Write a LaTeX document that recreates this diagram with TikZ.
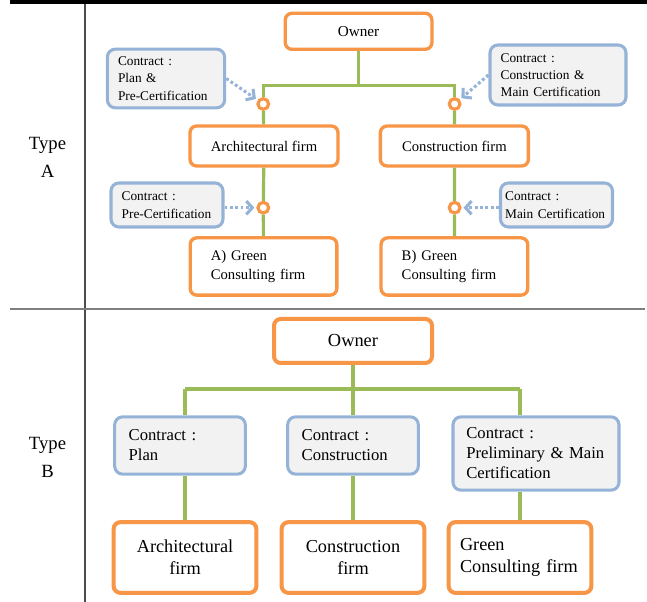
\documentclass[tikz,border=0pt]{standalone}
\usepackage{fontspec}
\setmainfont{Liberation Serif}
\usetikzlibrary{arrows.meta,calc}
\definecolor{firmorange}{HTML}{F79646}
\definecolor{contractblue}{HTML}{95B3D7}
\definecolor{linkgreen}{HTML}{9BBB59}
\definecolor{boxgray}{HTML}{F2F2F2}
\definecolor{rulegray}{HTML}{7F7F7F}

\begin{document}
\begin{tikzpicture}[x=0.75pt, y=-0.75pt,
  firm/.style={rectangle, rounded corners=5pt, draw=firmorange, line width=2.5pt, fill=white, align=center, inner sep=0pt},
  contract/.style={rectangle, rounded corners=6pt, draw=contractblue, line width=2.3pt, fill=boxgray, align=left, inner xsep=8pt, inner ysep=0pt},
  link/.style={draw=linkgreen, line width=2.4pt},
  arrow/.style={contractblue, line width=2.3pt, dash pattern=on 2.2pt off 1.8pt, -{Straight Barb[length=4.5pt,width=10pt]}, shorten >=1.5pt},
  joint/.style={circle, draw=firmorange, fill=white, line width=2.4pt, minimum size=8pt, inner sep=0pt},
  typelabel/.style={font=\fontsize{14}{21}\selectfont, align=center},
  textA/.style={font=\fontsize{11}{14.5}\selectfont},
  smallA/.style={font=\fontsize{10}{13}\selectfont},
  textB/.style={font=\fontsize{13.7}{16.3}\selectfont},
  smallB/.style={font=\fontsize{12.5}{15}\selectfont},
]
  \useasboundingbox (0,0) rectangle (647,602);

  % table rules
  \draw[line width=3pt] (10,2) -- (647,2);
  \draw[rulegray!60!black, line width=1.2pt] (85,4) -- (85,602);
  \draw[rulegray, line width=1.5pt] (10,309) -- (645,309);
  \node[typelabel] (typeA) at (47.5,157) {Type\\A};
  \node[typelabel] (typeB) at (47.5,457) {Type\\B};

  % Type A
  \node[firm, textA, font=\fontsize{11.4}{14}\selectfont, minimum width=110pt, minimum height=27pt] (ownA) at (358.6,31.3) {Owner};
  \node[contract, smallA, text width=72pt, minimum height=44pt] (planA) at (166,78.5) {Contract :\\Plan \&\\Pre-Certification};
  \node[contract, smallA, text width=86pt, minimum height=45pt] (mainA) at (558,75) {Contract :\\Construction \&\\Main Certification};
  \node[firm, textA, minimum width=111pt, minimum height=30pt] (archA) at (264,146) {Architectural firm};
  \node[firm, textA, minimum width=111pt, minimum height=30pt] (consA) at (454.4,146) {Construction firm};
  \node[contract, smallA, text width=68pt, minimum height=33pt] (preA) at (167,205) {Contract :\\Pre-Certification};
  \node[contract, smallA, text width=77pt, inner xsep=3.5pt, minimum height=33pt] (certA) at (556.5,205) {Contract :\\Main Certification};
  \node[firm, textA, align=left, text width=79pt, inner xsep=15.5pt, minimum height=43pt] (greenA) at (263.5,266.5) {A) Green\\Consulting firm};
  \node[firm, textA, align=left, text width=79pt, inner xsep=15.5pt, minimum height=43pt] (greenAB) at (454.4,266.5) {B) Green\\Consulting firm};
  \coordinate (busA) at (358.6,85.7);
  \node[joint] (joA1) at (263.3,104) {};
  \node[joint] (joA2) at (454.6,104) {};
  \node[joint] (joA3) at (263.3,207.7) {};
  \node[joint] (joA4) at (454.6,207.7) {};
  \draw[link] (ownA) -- (ownA |- busA);
  \draw[link] (joA1) -- (joA1 |- busA) -- (joA2 |- busA) -- (joA2);
  \draw[link] (joA1) -- (archA);
  \draw[link] (joA2) -- (consA);
  \draw[link] (archA) -- (joA3);
  \draw[link] (joA3) -- (greenA);
  \draw[link] (consA) -- (joA4);
  \draw[link] (joA4) -- (greenAB);
  \draw[arrow] (planA.east) -- (joA1);
  \draw[arrow] (mainA.west) -- (joA2);
  \draw[arrow] (preA.east |- joA3) -- (joA3);
  \draw[arrow] (certA.west |- joA4) -- (joA4);

  % Type B
  \node[firm, line width=3pt, font=\fontsize{13.8}{16}\selectfont, minimum width=118.5pt, minimum height=33pt] (ownB) at (353,341) {Owner};
  \coordinate (busB) at (353,389);
  \node[contract, smallB, text width=77pt, inner xsep=10.5pt, minimum height=43pt] (planB) at (180,445.5) {Contract :\\Plan};
  \node[contract, smallB, text width=77pt, inner xsep=10.5pt, minimum height=43pt] (constrB) at (353,445.5) {Contract :\\Construction};
  \node[contract, smallB, text width=104.5pt, inner xsep=10pt, minimum height=55pt] (certB) at (536,453.5) {Contract :\\Preliminary \& Main\\Certification};
  \node[firm, textB, line width=3pt, minimum width=107pt, minimum height=53pt] (archB) at (185,557.5) {Architectural\\firm};
  \node[firm, textB, line width=3pt, minimum width=107pt, minimum height=53pt] (consB) at (353,557.5) {Construction\\firm};
  \node[firm, textB, line width=3pt, align=left, text width=90pt, inner xsep=8.5pt, minimum height=53pt] (greenB) at (520,557.5) {Green\\Consulting firm};
  \draw[link, line width=3pt] (ownB) -- (constrB);
  \draw[link, line width=3pt] (constrB) -- (consB);
  \draw[link, line width=3pt] (archB.north |- busB) -- (greenB.north |- busB);
  \draw[link, line width=3pt] (archB.north |- busB) -- (archB.north |- planB.north);
  \draw[link, line width=3pt] (archB.north |- planB.south) -- (archB);
  \draw[link, line width=3pt] (greenB.north |- busB) -- (greenB.north |- certB.north);
  \draw[link, line width=3pt] (greenB.north |- certB.south) -- (greenB);
\end{tikzpicture}
\end{document}
